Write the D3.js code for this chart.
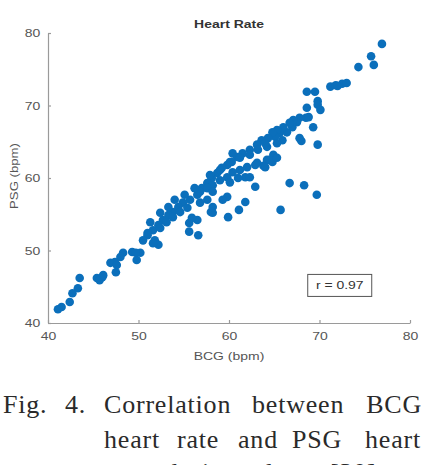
<!DOCTYPE html>
<html>
<head>
<meta charset="utf-8">
<script src="https://cdn.jsdelivr.net/npm/d3@7"></script>
<style>
  body { margin: 0; background: #fff; }
  .tick text { font-family: "Liberation Sans", Arial, sans-serif; font-size: 11px; fill: #555; }
  .axis-label { font-family: "Liberation Sans", Arial, sans-serif; font-size: 11px; fill: #555; }
  .caption { font-family: "Liberation Serif", "DejaVu Serif", serif; font-size: 26px; fill: #2a2a2a; letter-spacing: 0.8px; }
</style>
</head>
<body>
<div id="chart"></div>
<script>
// BCG (x) vs PSG (y) heart rate, bpm
const bcg = [76.9, 75.7, 76.0, 74.3, 71.2, 71.8, 72.5, 73.0, 72.0, 68.6, 69.5, 69.8, 69.8, 70.1, 68.6,
  68.5, 68.8, 69.3, 69.8, 68.0, 67.8, 67.5, 67.1, 67.0, 66.7, 66.4, 66.0, 65.6, 65.3, 65.1,
  64.8, 64.3, 63.6, 64.2, 63.1, 62.3, 61.5, 60.4, 60.9, 60.3, 59.8, 59.2, 58.7, 58.1, 57.6,
  57.0, 67.8, 65.9, 65.3, 64.9, 64.8, 64.2, 63.8, 63.1, 62.0, 61.2, 60.4, 59.8, 59.0, 58.2,
  57.6, 56.8, 56.5, 55.7, 54.9, 54.4, 53.8, 53.3, 52.7, 52.2, 51.6, 51.0, 50.5, 64.5, 65.3,
  64.0, 62.9, 61.8, 61.0, 60.1, 62.9, 59.8, 59.9, 61.1, 61.8, 58.0, 58.2, 56.6, 55.6, 56.5,
  55.6, 55.9, 66.7, 68.3, 69.7, 65.7, 59.3, 58.2, 58.2, 57.6, 56.8, 55.4, 54.6, 53.8, 53.1,
  52.4, 51.8, 52.2, 51.6, 50.2, 49.3, 49.8, 48.3, 48.0, 47.4, 46.9, 47.6, 47.5, 46.0, 45.4,
  45.7, 46.1, 43.5, 43.3, 42.7, 42.4, 41.5, 41.1, 51.0, 49.7, 56.2, 55.1, 54.0, 53.3, 52.4,
  51.3, 57.9, 59.0, 60.1, 61.2, 62.3, 63.2, 64.0, 62.3];
const psg = [78.5, 76.8, 75.6, 75.3, 72.6, 72.8, 73.0, 73.1, 72.7, 71.9, 71.9, 70.6, 70.1, 69.4, 69.7,
  68.3, 68.4, 67.0, 64.6, 65.1, 68.3, 67.7, 68.0, 67.0, 67.6, 66.3, 67.0, 66.2, 66.6, 65.7,
  66.3, 65.5, 65.2, 64.3, 64.6, 63.9, 63.4, 63.4, 62.9, 62.2, 61.8, 61.4, 60.7, 60.0, 59.3,
  58.6, 65.5, 65.2, 64.8, 63.2, 62.2, 62.5, 61.7, 62.1, 61.5, 61.1, 60.8, 60.1, 59.7, 59.0,
  58.6, 58.1, 57.7, 57.0, 56.6, 56.0, 55.3, 54.9, 54.2, 53.5, 52.8, 52.1, 51.4, 62.5, 62.8,
  61.5, 61.8, 60.1, 60.0, 59.4, 58.8, 57.4, 54.6, 55.6, 56.7, 55.3, 55.2, 52.1, 52.6, 54.2,
  53.8, 54.5, 59.3, 59.0, 57.7, 55.6, 57.0, 56.0, 58.1, 57.0, 56.6, 55.9, 55.3, 54.6, 53.9,
  53.1, 51.4, 50.8, 51.0, 49.7, 49.8, 48.7, 49.7, 49.1, 48.4, 48.3, 48.0, 47.0, 46.3, 46.2,
  45.9, 46.6, 46.2, 44.8, 44.1, 42.9, 42.2, 41.9, 52.4, 49.7, 58.6, 57.7, 57.0, 56.0, 55.2,
  53.9, 60.4, 61.1, 62.2, 62.8, 63.2, 63.9, 64.8, 60.1];

const xTicks = [40, 50, 60, 70, 80];
const yTicks = [40, 50, 60, 70, 80];
const title = "Heart Rate";
const xTitle = "BCG (bpm)";
const yTitle = "PSG (bpm)";
const rLabel = "r = 0.97";
const captionLines = [
  ["Fig.", "4.", "Correlation", "between", "BCG"],
  ["heart", "rate", "and", "PSG", "heart"],
  ["rate", "during", "sleep", "[30]."]
];

const W = 424, H = 465;
const margin = {left: 48, top: 33, right: 14, bottom: 142};
const width = W - margin.left - margin.right;
const height = H - margin.top - margin.bottom;
const stretch = "scale(1.27,1)";  // the figure text is a bit wide in the source

const svg = d3.select("#chart").append("svg")
  .attr("width", W)
  .attr("height", H);

const g = svg.append("g")
  .attr("transform", "translate(" + margin.left + "," + margin.top + ")");

const x = d3.scaleLinear().domain([40, 80]).range([0, width]);
const y = d3.scaleLinear().domain([40, 80]).range([height, 0]);

// axes (matlab style: ticks inside, no box)
g.append("g")
  .attr("transform", "translate(0," + height + ")")
  .call(d3.axisBottom(x).tickValues(xTicks).tickSizeInner(-3).tickSizeOuter(0).tickPadding(9));
g.append("g")
  .call(d3.axisLeft(y).tickValues(yTicks).tickSizeInner(-3).tickSizeOuter(0).tickPadding(6));
g.selectAll(".domain, .tick line").attr("stroke", "#9a9a9a").attr("stroke-width", 1.2);
g.selectAll(".tick text").attr("transform", stretch);

// points
const pts = bcg.map(function(d, i) { return {x: d, y: psg[i]}; });
g.append("g")
  .selectAll("circle")
  .data(pts)
  .enter()
  .append("circle")
  .attr("cx", function(d) { return x(d.x); })
  .attr("cy", function(d) { return y(d.y); })
  .attr("r", 4.3)
  .attr("fill", "#0b6fbb");

// title and axis labels
svg.append("text")
  .attr("transform", "translate(" + (margin.left + width / 2) + ",28) " + stretch)
  .attr("text-anchor", "middle")
  .style("font-family", "'Liberation Sans', Arial, sans-serif")
  .style("font-size", "11px")
  .style("font-weight", "bold")
  .style("fill", "#333")
  .text(title);

svg.append("text")
  .attr("class", "axis-label")
  .attr("transform", "translate(" + (margin.left + width / 2) + ",360) " + stretch)
  .attr("text-anchor", "middle")
  .text(xTitle);

svg.append("text")
  .attr("class", "axis-label")
  .attr("transform", "translate(18,176) rotate(-90) scale(1.2,1)")
  .attr("text-anchor", "middle")
  .text(yTitle);

// r box
const rb = g.append("g").attr("transform", "translate(" + x(68.7) + "," + y(46.7) + ")");
rb.append("rect")
  .attr("width", 64).attr("height", 22)
  .attr("fill", "#fff").attr("stroke", "#555").attr("stroke-width", 1);
rb.append("text")
  .attr("transform", "translate(32,15) " + stretch)
  .attr("text-anchor", "middle")
  .style("font-family", "'Liberation Sans', Arial, sans-serif")
  .style("font-size", "11px")
  .style("fill", "#333")
  .text(rLabel);

// caption, words placed so the first two lines look justified
const wordX = [[3, 65, 104, 252, 422], [104, 177, 238, 292, 421], [104, 165, 255, 330]];
const lineY = [413, 448, 481];
captionLines.forEach(function(words, li) {
  words.forEach(function(w, wi) {
    const last = li < 2 && wi === words.length - 1;
    svg.append("text")
      .attr("class", "caption")
      .attr("x", wordX[li][wi])
      .attr("y", lineY[li])
      .attr("text-anchor", last ? "end" : "start")
      .text(w);
  });
});
</script>
</body>
</html>
